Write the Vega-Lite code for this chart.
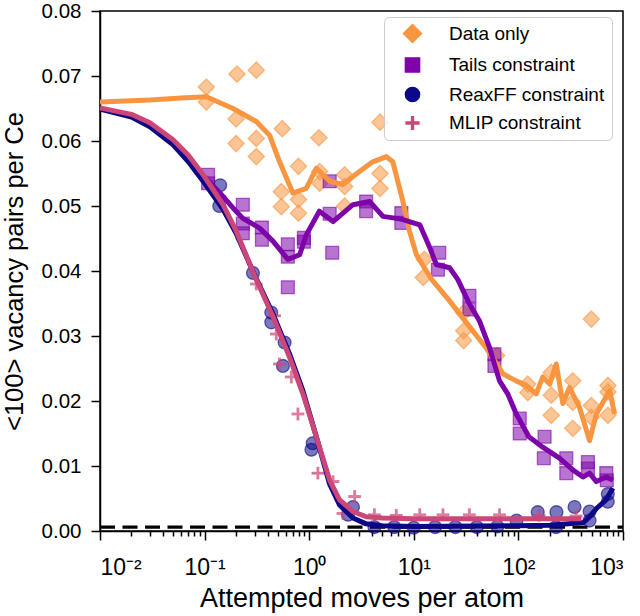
{
  "$schema": "https://vega.github.io/schema/vega-lite/v6.json",
  "width": 523,
  "height": 520,
  "autosize": {"type": "none"},
  "padding": {"left": 100, "top": 11, "right": 17, "bottom": 85},
  "background": "white",
  "config": {
    "font": "Liberation Sans",
    "view": {"stroke": "black", "strokeWidth": 1.5},
    "axis": {
      "grid": false,
      "domainColor": "black",
      "domainWidth": 1.5,
      "tickColor": "black",
      "tickWidth": 1.5,
      "labelColor": "black",
      "titleColor": "black",
      "labelFont": "Liberation Sans",
      "titleFont": "Liberation Sans",
      "titleFontWeight": "normal"
    }
  },
  "datasets": {
    "pts": [
      {"series": "Data only", "x": 0.104, "y": 0.0683},
      {"series": "Data only", "x": 0.104, "y": 0.066},
      {"series": "Data only", "x": 0.204, "y": 0.0703},
      {"series": "Data only", "x": 0.312, "y": 0.0709},
      {"series": "Data only", "x": 0.2, "y": 0.0634},
      {"series": "Data only", "x": 0.2, "y": 0.0596},
      {"series": "Data only", "x": 0.312, "y": 0.0604},
      {"series": "Data only", "x": 0.312, "y": 0.0576},
      {"series": "Data only", "x": 0.553, "y": 0.0619},
      {"series": "Data only", "x": 1.24, "y": 0.0605},
      {"series": "Data only", "x": 0.79, "y": 0.0561},
      {"series": "Data only", "x": 0.541, "y": 0.0522},
      {"series": "Data only", "x": 0.541, "y": 0.0499},
      {"series": "Data only", "x": 0.79, "y": 0.051},
      {"series": "Data only", "x": 0.79, "y": 0.0489},
      {"series": "Data only", "x": 1.26, "y": 0.0553},
      {"series": "Data only", "x": 1.26, "y": 0.0535},
      {"series": "Data only", "x": 2.18, "y": 0.0548},
      {"series": "Data only", "x": 2.18, "y": 0.053},
      {"series": "Data only", "x": 2.18, "y": 0.05},
      {"series": "Data only", "x": 4.75, "y": 0.0629},
      {"series": "Data only", "x": 4.75, "y": 0.055},
      {"series": "Data only", "x": 4.75, "y": 0.0527},
      {"series": "Data only", "x": 12.6, "y": 0.0418},
      {"series": "Data only", "x": 12.3, "y": 0.039},
      {"series": "Data only", "x": 30, "y": 0.0336},
      {"series": "Data only", "x": 30, "y": 0.0308},
      {"series": "Data only", "x": 30, "y": 0.0293},
      {"series": "Data only", "x": 62, "y": 0.027},
      {"series": "Data only", "x": 123, "y": 0.0226},
      {"series": "Data only", "x": 123, "y": 0.0213},
      {"series": "Data only", "x": 206, "y": 0.0244},
      {"series": "Data only", "x": 206, "y": 0.0209},
      {"series": "Data only", "x": 206, "y": 0.0178},
      {"series": "Data only", "x": 331, "y": 0.0231},
      {"series": "Data only", "x": 331, "y": 0.0198},
      {"series": "Data only", "x": 331, "y": 0.0158},
      {"series": "Data only", "x": 498, "y": 0.0326},
      {"series": "Data only", "x": 498, "y": 0.0193},
      {"series": "Data only", "x": 498, "y": 0.0175},
      {"series": "Data only", "x": 718, "y": 0.0224},
      {"series": "Data only", "x": 718, "y": 0.0214},
      {"series": "Data only", "x": 718, "y": 0.0178},
      {"series": "Tails constraint", "x": 0.108, "y": 0.0548},
      {"series": "Tails constraint", "x": 0.108, "y": 0.0535},
      {"series": "Tails constraint", "x": 0.232, "y": 0.0502},
      {"series": "Tails constraint", "x": 0.232, "y": 0.0473},
      {"series": "Tails constraint", "x": 0.232, "y": 0.0458},
      {"series": "Tails constraint", "x": 0.353, "y": 0.0467},
      {"series": "Tails constraint", "x": 0.353, "y": 0.0448},
      {"series": "Tails constraint", "x": 0.625, "y": 0.0441},
      {"series": "Tails constraint", "x": 0.625, "y": 0.0422},
      {"series": "Tails constraint", "x": 0.625, "y": 0.0375},
      {"series": "Tails constraint", "x": 0.89, "y": 0.0451},
      {"series": "Tails constraint", "x": 0.89, "y": 0.0445},
      {"series": "Tails constraint", "x": 1.57, "y": 0.0538},
      {"series": "Tails constraint", "x": 1.57, "y": 0.0488},
      {"series": "Tails constraint", "x": 1.66, "y": 0.0428},
      {"series": "Tails constraint", "x": 3.5, "y": 0.0507},
      {"series": "Tails constraint", "x": 3.5, "y": 0.0492},
      {"series": "Tails constraint", "x": 7.6, "y": 0.0489},
      {"series": "Tails constraint", "x": 7.6, "y": 0.0474},
      {"series": "Tails constraint", "x": 17.5, "y": 0.0428},
      {"series": "Tails constraint", "x": 17, "y": 0.0402},
      {"series": "Tails constraint", "x": 34, "y": 0.0362},
      {"series": "Tails constraint", "x": 34, "y": 0.0341},
      {"series": "Tails constraint", "x": 59, "y": 0.0272},
      {"series": "Tails constraint", "x": 59, "y": 0.0254},
      {"series": "Tails constraint", "x": 103, "y": 0.0173},
      {"series": "Tails constraint", "x": 103, "y": 0.015},
      {"series": "Tails constraint", "x": 178, "y": 0.0145},
      {"series": "Tails constraint", "x": 175, "y": 0.0112},
      {"series": "Tails constraint", "x": 287, "y": 0.0112},
      {"series": "Tails constraint", "x": 287, "y": 0.0089},
      {"series": "Tails constraint", "x": 462, "y": 0.0106},
      {"series": "Tails constraint", "x": 462, "y": 0.0096},
      {"series": "Tails constraint", "x": 692, "y": 0.0089},
      {"series": "Tails constraint", "x": 700, "y": 0.0078},
      {"series": "ReaxFF constraint", "x": 0.141, "y": 0.0532},
      {"series": "ReaxFF constraint", "x": 0.138, "y": 0.05},
      {"series": "ReaxFF constraint", "x": 0.29, "y": 0.0397},
      {"series": "ReaxFF constraint", "x": 0.434, "y": 0.0336},
      {"series": "ReaxFF constraint", "x": 0.434, "y": 0.0321},
      {"series": "ReaxFF constraint", "x": 0.582, "y": 0.029},
      {"series": "ReaxFF constraint", "x": 0.561, "y": 0.0254},
      {"series": "ReaxFF constraint", "x": 1.08, "y": 0.0135},
      {"series": "ReaxFF constraint", "x": 1.05, "y": 0.0125},
      {"series": "ReaxFF constraint", "x": 2.62, "y": 0.0037},
      {"series": "ReaxFF constraint", "x": 2.35, "y": 0.0025},
      {"series": "ReaxFF constraint", "x": 4.2, "y": 0.0006},
      {"series": "ReaxFF constraint", "x": 6.5, "y": 0.0006},
      {"series": "ReaxFF constraint", "x": 10, "y": 0.0005},
      {"series": "ReaxFF constraint", "x": 16, "y": 0.0006},
      {"series": "ReaxFF constraint", "x": 25, "y": 0.0006},
      {"series": "ReaxFF constraint", "x": 40, "y": 0.0006},
      {"series": "ReaxFF constraint", "x": 63, "y": 0.0007},
      {"series": "ReaxFF constraint", "x": 96, "y": 0.0016},
      {"series": "ReaxFF constraint", "x": 153, "y": 0.0029},
      {"series": "ReaxFF constraint", "x": 231, "y": 0.0029},
      {"series": "ReaxFF constraint", "x": 229, "y": 0.0006},
      {"series": "ReaxFF constraint", "x": 344, "y": 0.0037},
      {"series": "ReaxFF constraint", "x": 479, "y": 0.003},
      {"series": "ReaxFF constraint", "x": 479, "y": 0.0016},
      {"series": "ReaxFF constraint", "x": 716, "y": 0.0057},
      {"series": "ReaxFF constraint", "x": 716, "y": 0.0045},
      {"series": "MLIP constraint", "x": 0.14, "y": 0.0515},
      {"series": "MLIP constraint", "x": 0.312, "y": 0.038},
      {"series": "MLIP constraint", "x": 0.467, "y": 0.0331},
      {"series": "MLIP constraint", "x": 0.485, "y": 0.0303},
      {"series": "MLIP constraint", "x": 0.52, "y": 0.0257},
      {"series": "MLIP constraint", "x": 0.675, "y": 0.0237},
      {"series": "MLIP constraint", "x": 0.78, "y": 0.018},
      {"series": "MLIP constraint", "x": 1.21, "y": 0.0089},
      {"series": "MLIP constraint", "x": 1.69, "y": 0.0076},
      {"series": "MLIP constraint", "x": 2.72, "y": 0.0053},
      {"series": "MLIP constraint", "x": 2.1, "y": 0.0027},
      {"series": "MLIP constraint", "x": 4.2, "y": 0.0025},
      {"series": "MLIP constraint", "x": 6.8, "y": 0.0024},
      {"series": "MLIP constraint", "x": 11.4, "y": 0.0025},
      {"series": "MLIP constraint", "x": 19, "y": 0.0025},
      {"series": "MLIP constraint", "x": 34, "y": 0.0025},
      {"series": "MLIP constraint", "x": 66, "y": 0.0025},
      {"series": "MLIP constraint", "x": 158, "y": 0.0024},
      {"series": "MLIP constraint", "x": 357, "y": 0.0023}
    ],
    "lines": [
      {"s": "D", "x": 0.01, "y": 0.066},
      {"s": "D", "x": 0.03, "y": 0.0663},
      {"s": "D", "x": 0.06, "y": 0.0666},
      {"s": "D", "x": 0.104, "y": 0.0668},
      {"s": "D", "x": 0.187, "y": 0.065},
      {"s": "D", "x": 0.312, "y": 0.063},
      {"s": "D", "x": 0.418, "y": 0.0609},
      {"s": "D", "x": 0.521, "y": 0.0568},
      {"s": "D", "x": 0.698, "y": 0.052},
      {"s": "D", "x": 0.937, "y": 0.0527},
      {"s": "D", "x": 1.17, "y": 0.0558},
      {"s": "D", "x": 1.57, "y": 0.0538},
      {"s": "D", "x": 2.1, "y": 0.0533},
      {"s": "D", "x": 3.02, "y": 0.0553},
      {"s": "D", "x": 4.06, "y": 0.0568},
      {"s": "D", "x": 5.46, "y": 0.0576},
      {"s": "D", "x": 6.3, "y": 0.0568},
      {"s": "D", "x": 7.87, "y": 0.0507},
      {"s": "D", "x": 9.1, "y": 0.0461},
      {"s": "D", "x": 10.6, "y": 0.0425},
      {"s": "D", "x": 13.2, "y": 0.04},
      {"s": "D", "x": 15, "y": 0.0386},
      {"s": "D", "x": 21.5, "y": 0.0356},
      {"s": "D", "x": 27.4, "y": 0.0334},
      {"s": "D", "x": 49, "y": 0.0282},
      {"s": "D", "x": 71, "y": 0.0242},
      {"s": "D", "x": 95, "y": 0.0231},
      {"s": "D", "x": 119, "y": 0.0224},
      {"s": "D", "x": 148, "y": 0.0211},
      {"s": "D", "x": 171, "y": 0.0237},
      {"s": "D", "x": 199, "y": 0.0226},
      {"s": "D", "x": 230, "y": 0.0257},
      {"s": "D", "x": 266, "y": 0.0196},
      {"s": "D", "x": 308, "y": 0.0221},
      {"s": "D", "x": 384, "y": 0.019},
      {"s": "D", "x": 479, "y": 0.0139},
      {"s": "D", "x": 556, "y": 0.018},
      {"s": "D", "x": 745, "y": 0.0216},
      {"s": "D", "x": 832, "y": 0.018},
      {"s": "T", "x": 0.1, "y": 0.0545},
      {"s": "T", "x": 0.14, "y": 0.052},
      {"s": "T", "x": 0.187, "y": 0.0497},
      {"s": "T", "x": 0.232, "y": 0.0481},
      {"s": "T", "x": 0.336, "y": 0.0466},
      {"s": "T", "x": 0.45, "y": 0.0446},
      {"s": "T", "x": 0.625, "y": 0.0418},
      {"s": "T", "x": 0.81, "y": 0.0425},
      {"s": "T", "x": 0.94, "y": 0.0456},
      {"s": "T", "x": 1.25, "y": 0.0492},
      {"s": "T", "x": 1.69, "y": 0.0476},
      {"s": "T", "x": 2.62, "y": 0.0502},
      {"s": "T", "x": 3.78, "y": 0.0507},
      {"s": "T", "x": 5.07, "y": 0.0484},
      {"s": "T", "x": 6.8, "y": 0.0481},
      {"s": "T", "x": 7.87, "y": 0.0479},
      {"s": "T", "x": 11.4, "y": 0.0471},
      {"s": "T", "x": 14.2, "y": 0.0436},
      {"s": "T", "x": 16.4, "y": 0.041},
      {"s": "T", "x": 22, "y": 0.0405},
      {"s": "T", "x": 26.3, "y": 0.0387},
      {"s": "T", "x": 34.1, "y": 0.0349},
      {"s": "T", "x": 42.5, "y": 0.0323},
      {"s": "T", "x": 53, "y": 0.0282},
      {"s": "T", "x": 66, "y": 0.0231},
      {"s": "T", "x": 79, "y": 0.0211},
      {"s": "T", "x": 95.5, "y": 0.018},
      {"s": "T", "x": 126, "y": 0.0145},
      {"s": "T", "x": 171, "y": 0.0129},
      {"s": "T", "x": 247, "y": 0.0112},
      {"s": "T", "x": 331, "y": 0.0094},
      {"s": "T", "x": 414, "y": 0.0083},
      {"s": "T", "x": 479, "y": 0.0089},
      {"s": "T", "x": 556, "y": 0.0076},
      {"s": "T", "x": 692, "y": 0.0083},
      {"s": "T", "x": 800, "y": 0.0078},
      {"s": "R", "x": 0.01, "y": 0.0649},
      {"s": "R", "x": 0.02, "y": 0.0637},
      {"s": "R", "x": 0.03, "y": 0.0622},
      {"s": "R", "x": 0.05, "y": 0.0594},
      {"s": "R", "x": 0.07, "y": 0.0568},
      {"s": "R", "x": 0.1, "y": 0.0535},
      {"s": "R", "x": 0.15, "y": 0.0495},
      {"s": "R", "x": 0.2, "y": 0.0458},
      {"s": "R", "x": 0.3, "y": 0.0394},
      {"s": "R", "x": 0.45, "y": 0.0334},
      {"s": "R", "x": 0.65, "y": 0.0272},
      {"s": "R", "x": 0.87, "y": 0.0216},
      {"s": "R", "x": 1.17, "y": 0.0145},
      {"s": "R", "x": 1.57, "y": 0.0072},
      {"s": "R", "x": 1.95, "y": 0.004},
      {"s": "R", "x": 2.62, "y": 0.002},
      {"s": "R", "x": 3.5, "y": 0.0011},
      {"s": "R", "x": 5, "y": 0.0008},
      {"s": "R", "x": 10, "y": 0.0007},
      {"s": "R", "x": 100, "y": 0.0008},
      {"s": "R", "x": 200, "y": 0.0009},
      {"s": "R", "x": 300, "y": 0.0011},
      {"s": "R", "x": 420, "y": 0.0013},
      {"s": "R", "x": 480, "y": 0.0022},
      {"s": "R", "x": 560, "y": 0.0035},
      {"s": "R", "x": 690, "y": 0.0048},
      {"s": "R", "x": 800, "y": 0.0066},
      {"s": "M", "x": 0.01, "y": 0.0651},
      {"s": "M", "x": 0.02, "y": 0.0641},
      {"s": "M", "x": 0.03, "y": 0.0628},
      {"s": "M", "x": 0.05, "y": 0.0602},
      {"s": "M", "x": 0.07, "y": 0.0578},
      {"s": "M", "x": 0.1, "y": 0.0545},
      {"s": "M", "x": 0.15, "y": 0.0502},
      {"s": "M", "x": 0.2, "y": 0.0462},
      {"s": "M", "x": 0.3, "y": 0.0393},
      {"s": "M", "x": 0.45, "y": 0.033},
      {"s": "M", "x": 0.65, "y": 0.0267},
      {"s": "M", "x": 0.87, "y": 0.0211},
      {"s": "M", "x": 1.17, "y": 0.0145},
      {"s": "M", "x": 1.57, "y": 0.0078},
      {"s": "M", "x": 1.95, "y": 0.0048},
      {"s": "M", "x": 2.62, "y": 0.003},
      {"s": "M", "x": 3.5, "y": 0.0022},
      {"s": "M", "x": 5, "y": 0.002},
      {"s": "M", "x": 10, "y": 0.0019},
      {"s": "M", "x": 100, "y": 0.0019},
      {"s": "M", "x": 400, "y": 0.0019},
      {"s": "ref", "x": 0.01, "y": 0.0006},
      {"s": "ref", "x": 1000, "y": 0.0006}
    ]
  },
  "encoding": {
    "x": {"field": "x", "type": "quantitative", "scale": {"type": "log", "domain": [0.01, 1000]}, "axis": null},
    "y": {
      "field": "y", "type": "quantitative",
      "scale": {"domain": [0, 0.08], "nice": false, "zero": false},
      "axis": {
        "values": [0, 0.01, 0.02, 0.03, 0.04, 0.05, 0.06, 0.07, 0.08],
        "format": ".2f",
        "tickSize": 9,
        "labelPadding": 10,
        "labelFontSize": 20.5,
        "title": "<100> vacancy pairs per Ce",
        "titleFontSize": 25.5,
        "titlePadding": 14
      }
    }
  },
  "layer": [
    {
      "data": {"name": "lines"},
      "transform": [{"filter": "datum.s === 'ref'"}],
      "mark": {"type": "line", "color": "black", "strokeWidth": 3.3, "strokeDash": [15, 7.5]},
      "encoding": {
        "x": {
          "field": "x", "type": "quantitative", "scale": {"type": "log", "domain": [0.01, 1000]},
          "axis": {
            "orient": "bottom",
            "values": [0.02, 0.03, 0.04, 0.05, 0.06, 0.07, 0.08, 0.09, 0.2, 0.3, 0.4, 0.5, 0.6, 0.7, 0.8, 0.9, 2, 3, 4, 5, 6, 7, 8, 9, 20, 30, 40, 50, 60, 70, 80, 90, 200, 300, 400, 500, 600, 700, 800, 900],
            "labels": false, "domain": false, "tickSize": 5, "title": null
          }
        }
      }
    },
    {
      "data": {"name": "pts"},
      "mark": {"type": "point", "filled": true, "size": 165, "fillOpacity": 0.55, "strokeOpacity": 0.6, "strokeWidth": 1.3},
      "encoding": {
        "x": {
          "field": "x", "type": "quantitative", "scale": {"type": "log", "domain": [0.01, 1000]},
          "axis": {
            "orient": "bottom",
            "values": [0.01, 0.1, 1, 10, 100, 1000],
            "labelExpr": "['10⁻²','10⁻¹','10⁰','10¹','10²','10³'][round(log(datum.value)/LN10)+2]",
            "tickSize": 9,
            "labelPadding": 16,
            "labelFontSize": 23,
            "title": "Attempted moves per atom",
            "titleFontSize": 27,
            "titlePadding": 6
          }
        },
        "color": {
          "field": "series", "type": "nominal",
          "scale": {"domain": ["Data only", "Tails constraint", "ReaxFF constraint", "MLIP constraint"], "range": ["#f89540", "#7e03a8", "#0d0887", "#cc4778"]},
          "legend": {"orient": "none", "legendX": 284, "legendY": 6, "title": null, "padding": 7, "symbolOffset": 12, "labelOffset": 27, "rowPadding": 8.5, "symbolSize": 200, "symbolOpacity": 1, "labelFontSize": 19, "labelColor": "black", "fillColor": "rgba(255,255,255,0.8)", "strokeColor": "#cccccc", "cornerRadius": 5}
        },
        "shape": {
          "field": "series", "type": "nominal",
          "scale": {"domain": ["Data only", "Tails constraint", "ReaxFF constraint", "MLIP constraint"], "range": ["M0,-1.27L1.27,0L0,1.27L-1.27,0Z", "square", "circle", "M-0.9,-0.13H-0.13V-0.9H0.13V-0.13H0.9V0.13H0.13V0.9H-0.13V0.13H-0.9Z"]},
          "legend": {"orient": "none", "legendX": 284, "legendY": 6, "title": null, "padding": 7, "symbolOffset": 12, "labelOffset": 27, "rowPadding": 8.5, "symbolSize": 200, "symbolOpacity": 1, "labelFontSize": 19, "labelColor": "black", "fillColor": "rgba(255,255,255,0.8)", "strokeColor": "#cccccc", "cornerRadius": 5}
        },
        "stroke": {
          "field": "series", "type": "nominal",
          "scale": {"domain": ["Data only", "Tails constraint", "ReaxFF constraint", "MLIP constraint"], "range": ["#f89540", "#7e03a8", "#0d0887", "#cc4778"]},
          "legend": null
        }
      }
    },
    {
      "data": {"name": "lines"},
      "transform": [{"filter": "datum.s === 'D'"}],
      "mark": {"type": "line", "color": "#f89540", "strokeWidth": 5, "strokeJoin": "round"},
      "encoding": {}
    },
    {
      "data": {"name": "lines"},
      "transform": [{"filter": "datum.s === 'T'"}],
      "mark": {"type": "line", "color": "#7e03a8", "strokeWidth": 5, "strokeJoin": "round"},
      "encoding": {}
    },
    {
      "data": {"name": "lines"},
      "transform": [{"filter": "datum.s === 'R'"}],
      "mark": {"type": "line", "color": "#0d0887", "strokeWidth": 5, "strokeJoin": "round"},
      "encoding": {}
    },
    {
      "data": {"name": "lines"},
      "transform": [{"filter": "datum.s === 'M'"}],
      "mark": {"type": "line", "color": "#cc4778", "strokeWidth": 5, "strokeJoin": "round"},
      "encoding": {}
    }
  ],
  "resolve": {"axis": {"x": "independent"}}
}
